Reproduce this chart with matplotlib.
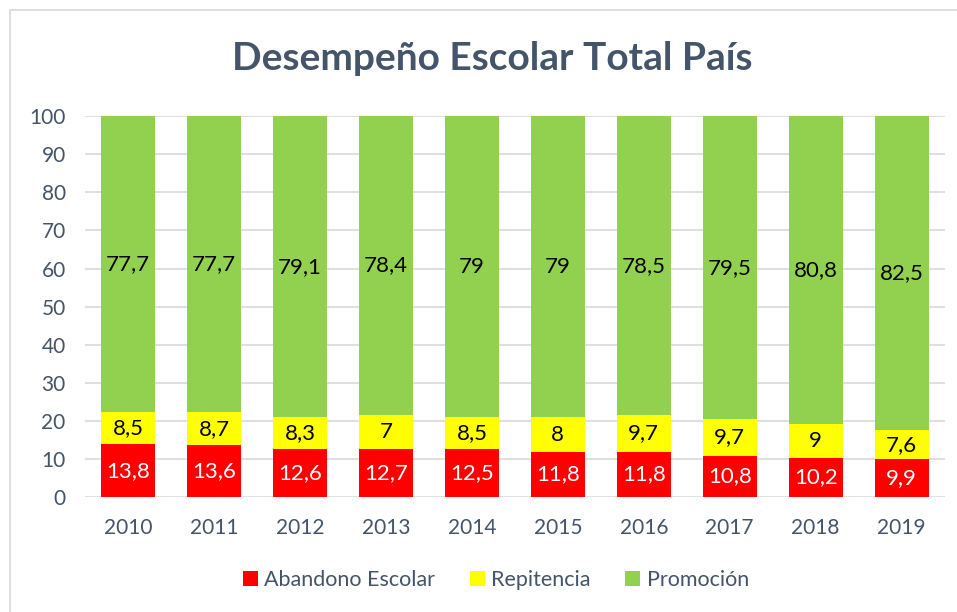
import matplotlib.pyplot as plt
import numpy as np
from matplotlib.patches import Rectangle

years = ['2010', '2011', '2012', '2013', '2014', '2015', '2016', '2017', '2018', '2019']
abandono = [13.8, 13.6, 12.6, 12.7, 12.5, 11.8, 11.8, 10.8, 10.2, 9.9]
# bar heights as drawn (100% stacked); the labels shown for 2013 and 2015 differ
repitencia = [8.5, 8.7, 8.3, 8.9, 8.5, 9.2, 9.7, 9.7, 9.0, 7.6]
repitencia_labels = ['8,5', '8,7', '8,3', '7', '8,5', '8', '9,7', '9,7', '9', '7,6']
promocion = [77.7, 77.7, 79.1, 78.4, 79, 79, 78.5, 79.5, 80.8, 82.5]

plt.rcParams['font.family'] = ['Lato', 'DejaVu Sans']
text_col = '#44546A'

fig = plt.figure(figsize=(9.57, 6.12), dpi=100)
ax = fig.add_axes([0.089, 0.188, 0.898, 0.622])

# outer chart border
fig.patches.append(Rectangle((0.010, -0.01), 1.2, 0.994, transform=fig.transFigure,
                             fill=False, edgecolor='#D9D9D9', linewidth=1.2))

x = np.arange(len(years))
w = 0.63
b1 = ax.bar(x, abandono, w, color='#FF0000', label='Abandono Escolar', zorder=3)
bottom2 = np.array(abandono)
b2 = ax.bar(x, repitencia, w, bottom=bottom2, color='#FFFF00', label='Repitencia', zorder=3)
bottom3 = bottom2 + np.array(repitencia)
b3 = ax.bar(x, promocion, w, bottom=bottom3, color='#92D050', label='Promoción', zorder=3)

def fmt(v):
    return ('%g' % v).replace('.', ',')

for i in range(len(years)):
    ax.text(x[i], abandono[i] / 2, fmt(abandono[i]), ha='center', va='center',
            color='white', fontsize=16, zorder=4)
    ax.text(x[i], bottom2[i] + repitencia[i] / 2, repitencia_labels[i], ha='center', va='center',
            color='black', fontsize=16, zorder=4)
    ax.text(x[i], bottom3[i] + promocion[i] / 2, fmt(promocion[i]), ha='center', va='center',
            color='black', fontsize=16, zorder=4)

ax.set_xlim(-0.5, len(years) - 0.5)
ax.set_ylim(0, 100)
ax.set_yticks(range(0, 101, 10))
ax.set_xticks(x)
ax.set_xticklabels(years)
ax.tick_params(axis='both', length=0, labelsize=15, colors=text_col)
ax.tick_params(axis='x', pad=15)
ax.tick_params(axis='y', pad=14)
ax.yaxis.grid(True, color='#D9D9D9', linewidth=1.2, zorder=0)
for s in ax.spines.values():
    s.set_visible(False)

fig.text(0.514, 0.905, 'Desempeño Escolar Total País', ha='center', va='center',
         fontsize=28, fontweight='bold', color=text_col)

fig.legend(handles=[b1, b2, b3], loc='center', bbox_to_anchor=(0.518, 0.052), ncol=3,
           frameon=False, fontsize=15.5, handlelength=0.7, handleheight=0.7,
           handletextpad=0.3, columnspacing=1.6, labelcolor=text_col)

fig.savefig('out.png', dpi=100)
